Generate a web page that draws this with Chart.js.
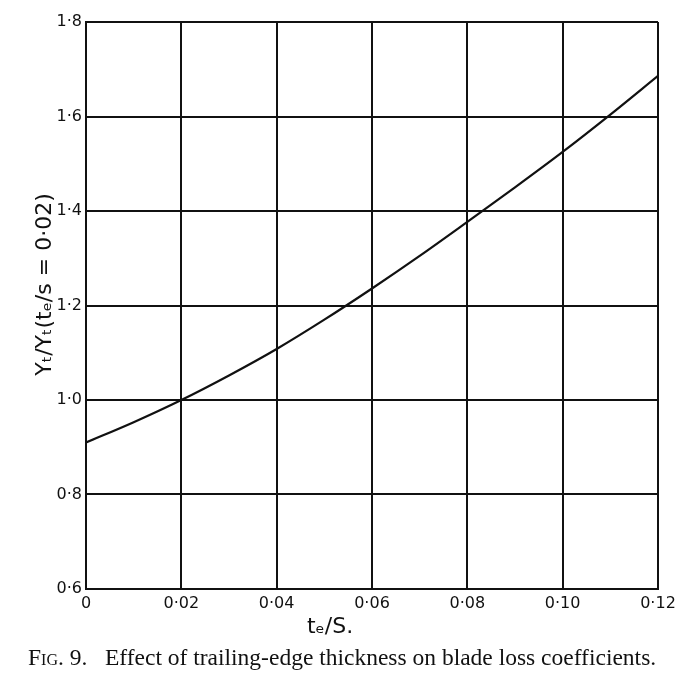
<!DOCTYPE html>
<html>
<head>
<meta charset="utf-8">
<script src="https://cdn.jsdelivr.net/npm/chart.js@4"></script>
<style>
  html, body { margin: 0; padding: 0; background: #fff; }
  #wrap { position: relative; width: 692px; height: 690px; }
  #c { position: absolute; left: 0; top: 0; }
  #caption { position: absolute; left: 28px; top: 644px; width: 680px; font-family: "Liberation Serif", "DejaVu Serif", serif; font-size: 23.5px; color: #111; white-space: pre; }
  #caption .sc { font-variant: small-caps; }
</style>
</head>
<body>
<div id="wrap">
  <canvas id="c" width="692" height="690"></canvas>
  <div id="caption"><span class="sc">Fig</span>. 9.   Effect of trailing-edge thickness on blade loss coefficients.</div>
</div>
<script>
// thickness ratio t_e/s
const thickness = [0, 0.01, 0.02, 0.03, 0.04, 0.05, 0.06, 0.07, 0.08, 0.09, 0.10, 0.11, 0.12];
// loss ratio Yt / Yt(te/s = 0.02)
const lossRatio = [0.910, 0.953, 1.000, 1.052, 1.108, 1.170, 1.236, 1.305, 1.377, 1.450, 1.525, 1.604, 1.686];

const xTickValues = [0, 0.02, 0.04, 0.06, 0.08, 0.10, 0.12];
const xTickLabels = ["0", "0·02", "0·04", "0·06", "0·08", "0·10", "0·12"];
const yTickValues = [0.6, 0.8, 1.0, 1.2, 1.4, 1.6, 1.8];
const yTickLabels = ["0·6", "0·8", "1·0", "1·2", "1·4", "1·6", "1·8"];

const xTitle = "tₑ/S.";
const yTitle = "Yₜ/Yₜ(tₑ/s = 0·02)";

const points = thickness.map((x, i) => ({ x: x, y: lossRatio[i] }));

function labelFor(values, labels, v) {
  for (let i = 0; i < values.length; i++) {
    if (Math.abs(values[i] - v) < 1e-6) return labels[i];
  }
  return "";
}

const ink = "#111";
const tickFont = { family: "'DejaVu Sans', sans-serif", size: 16 };

new Chart(document.getElementById("c"), {
  type: "line",
  data: {
    datasets: [{
      data: points,
      borderColor: ink,
      borderWidth: 2.2,
      pointRadius: 0,
      fill: false,
      cubicInterpolationMode: "monotone"
    }]
  },
  options: {
    responsive: false,
    animation: false,
    layout: { padding: { top: 22, right: 34, left: 0, bottom: 0 } },
    plugins: { legend: { display: false }, tooltip: { enabled: false } },
    scales: {
      x: {
        type: "linear",
        min: 0, max: 0.12,
        afterBuildTicks: (s) => { s.ticks = xTickValues.map(v => ({ value: v })); },
        afterFit: (s) => { s.height = 101; },
        grid: { color: ink, lineWidth: 2, drawTicks: false },
        border: { color: ink, width: 2 },
        ticks: {
          color: ink, font: tickFont, padding: 5, maxRotation: 0,
          callback: (v) => labelFor(xTickValues, xTickLabels, v)
        },
        title: {
          display: true, text: xTitle + "            ", color: ink,
          font: { family: "'DejaVu Sans', sans-serif", size: 22 },
          padding: { top: 2, bottom: 50 }
        }
      },
      y: {
        type: "linear",
        min: 0.6, max: 1.8,
        afterBuildTicks: (s) => { s.ticks = yTickValues.map(v => ({ value: v })); },
        afterFit: (s) => { s.width = 86; },
        grid: { color: ink, lineWidth: 2, drawTicks: false },
        border: { color: ink, width: 2 },
        ticks: {
          color: ink, font: tickFont, padding: 4,
          callback: (v) => labelFor(yTickValues, yTickLabels, v)
        },
        title: {
          display: true, text: "      " + yTitle, color: ink,
          font: { family: "'DejaVu Sans', sans-serif", size: 22 },
          padding: { top: 32, bottom: 0 }
        }
      }
    }
  }
});
</script>
</body>
</html>
